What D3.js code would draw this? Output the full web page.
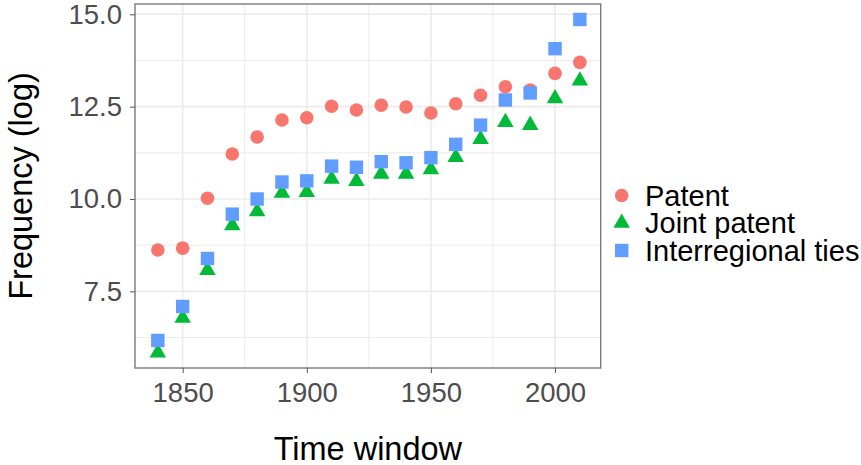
<!DOCTYPE html>
<html>
<head>
<meta charset="utf-8">
<script src="https://cdn.jsdelivr.net/npm/d3@7"></script>
<style>
  body { margin: 0; background: #fff; }
  text { font-family: "Liberation Sans", Arial, sans-serif; }
</style>
</head>
<body>
<div id="chart"></div>
<script>
// data
var years = [1840, 1850, 1860, 1870, 1880, 1890, 1900, 1910, 1920, 1930, 1940, 1950, 1960, 1970, 1980, 1990, 2000, 2010];
var patent = [8.62, 8.67, 10.02, 11.22, 11.68, 12.14, 12.20, 12.51, 12.41, 12.54, 12.49, 12.33, 12.58, 12.81, 13.04, 12.95, 13.40, 13.70];
var jointPatent = [5.84, 6.78, 8.07, 9.28, 9.66, 10.16, 10.18, 10.54, 10.48, 10.68, 10.68, 10.80, 11.13, 11.62, 12.08, 12.00, 12.72, 13.20];
var interregional = [6.17, 7.09, 8.39, 9.59, 10.00, 10.46, 10.49, 10.89, 10.86, 11.01, 10.98, 11.12, 11.48, 12.00, 12.68, 12.87, 14.07, 14.86];
var seriesNames = ["Patent", "Joint patent", "Interregional ties"];
var seriesColors = ["#F8766D", "#00BA38", "#619CFF"];
var xTicks = [1850, 1900, 1950, 2000];
var xMinor = [1875, 1925, 1975];
var yTicks = [7.5, 10.0, 12.5, 15.0];
var yMinor = [6.25, 8.75, 11.25, 13.75];

var width = 861,
    height = 465;
var panel = {left: 135, right: 600.7, top: 4, bottom: 368};

var series = [patent, jointPatent, interregional].map(function (vals, i) {
    return {
        name: seriesNames[i],
        color: seriesColors[i],
        shape: [d3.symbolCircle, d3.symbolTriangle, d3.symbolSquare][i],
        size: [145, 118, 180][i],
        points: vals.map(function (v, j) { return {year: years[j], value: v}; })
    };
});

var x = d3.scaleLinear()
    .domain([1830.8, 2018.4])
    .range([panel.left, panel.right]);

var y = d3.scaleLinear()
    .domain([5.425, 15.279])
    .range([panel.bottom, panel.top]);

var svg = d3.select("#chart").append("svg")
    .attr("width", width)
    .attr("height", height);

// grid
var grid = svg.append("g");
grid.selectAll(".xminor").data(xMinor).enter().append("line")
    .attr("x1", function (d) { return x(d); }).attr("x2", function (d) { return x(d); })
    .attr("y1", panel.top).attr("y2", panel.bottom)
    .attr("stroke", "#EBEBEB").attr("stroke-width", 1);
grid.selectAll(".yminor").data(yMinor).enter().append("line")
    .attr("y1", function (d) { return y(d); }).attr("y2", function (d) { return y(d); })
    .attr("x1", panel.left).attr("x2", panel.right)
    .attr("stroke", "#EBEBEB").attr("stroke-width", 1);
grid.selectAll(".xmajor").data(xTicks).enter().append("line")
    .attr("x1", function (d) { return x(d); }).attr("x2", function (d) { return x(d); })
    .attr("y1", panel.top).attr("y2", panel.bottom)
    .attr("stroke", "#EBEBEB").attr("stroke-width", 1.6);
grid.selectAll(".ymajor").data(yTicks).enter().append("line")
    .attr("y1", function (d) { return y(d); }).attr("y2", function (d) { return y(d); })
    .attr("x1", panel.left).attr("x2", panel.right)
    .attr("stroke", "#EBEBEB").attr("stroke-width", 1.6);

// points, drawn series by series
var symbol = d3.symbol();
series.forEach(function (s) {
    svg.append("g").selectAll("path")
        .data(s.points)
        .enter()
        .append("path")
        .attr("transform", function (d) {
            return "translate(" + [x(d.year), y(d.value)] + ")";
        })
        .attr("d", symbol.type(s.shape).size(s.size)())
        .attr("fill", s.color);
});

// panel border
svg.append("rect")
    .attr("x", panel.left).attr("y", panel.top)
    .attr("width", panel.right - panel.left)
    .attr("height", panel.bottom - panel.top)
    .attr("fill", "none")
    .attr("stroke", "#7a7a7a")
    .attr("stroke-width", 1.4);

// axes
var xAxis = svg.append("g")
    .attr("transform", "translate(0," + panel.bottom + ")")
    .call(d3.axisBottom(x).tickValues(xTicks).tickSize(5).tickPadding(6).tickFormat(d3.format("d")));
var yAxis = svg.append("g")
    .attr("transform", "translate(" + panel.left + ",0)")
    .call(d3.axisLeft(y).tickValues(yTicks).tickSize(5).tickPadding(8).tickFormat(d3.format(".1f")));

[xAxis, yAxis].forEach(function (a) {
    a.select(".domain").remove();
    a.selectAll(".tick line").attr("stroke", "#555");
    a.selectAll(".tick text")
        .attr("fill", "#4D4D4D")
        .attr("font-size", "27.5px")
        .style("font-family", "'Liberation Sans', Arial, sans-serif");
});
xAxis.selectAll(".tick text").attr("dy", null).attr("y", 33.5);

// axis titles
svg.append("text")
    .attr("x", (panel.left + panel.right) / 2)
    .attr("y", 459.5)
    .attr("text-anchor", "middle")
    .attr("font-size", "32.5px")
    .attr("fill", "#000")
    .text("Time window");

svg.append("text")
    .attr("transform", "translate(31.5," + (panel.top + panel.bottom) / 2 + ")rotate(-90)")
    .attr("text-anchor", "middle")
    .attr("font-size", "32.5px")
    .attr("fill", "#000")
    .text("Frequency (log)");

// legend
var legend = svg.append("g")
    .attr("transform", "translate(621.7,195.5)");
var items = legend.selectAll(".item")
    .data(series)
    .enter()
    .append("g")
    .attr("class", "item")
    .attr("transform", function (d, i) { return "translate(0," + i * 27.5 + ")"; });
items.append("path")
    .attr("d", function (d) { return d3.symbol().type(d.shape).size(d.size)(); })
    .attr("fill", function (d) { return d.color; });
items.append("text")
    .attr("x", 23.3)
    .attr("y", 10)
    .attr("font-size", "29px")
    .attr("fill", "#000")
    .text(function (d) { return d.name; });
</script>
</body>
</html>
